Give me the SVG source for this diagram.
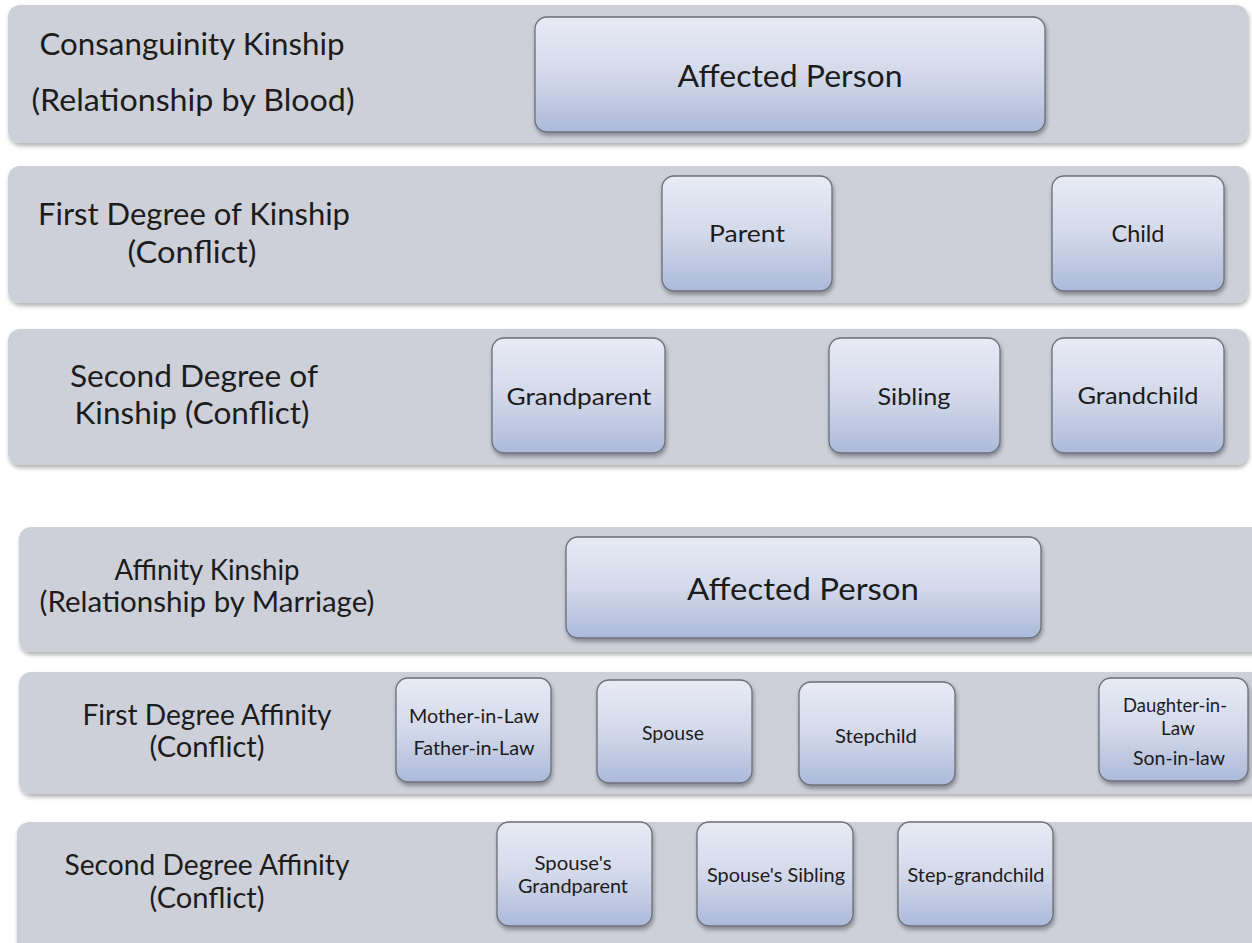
<svg xmlns="http://www.w3.org/2000/svg" width="1252" height="943" viewBox="0 0 1252 943">
<defs>
<linearGradient id="ng" x1="0" y1="0" x2="0" y2="1">
<stop offset="0" stop-color="#e8ebf5"/>
<stop offset="0.5" stop-color="#d3d9ea"/>
<stop offset="1" stop-color="#acb9da"/>
</linearGradient>
<filter id="sh" x="-10%" y="-10%" width="120%" height="130%">
<feDropShadow dx="1" dy="3" stdDeviation="2" flood-color="#000" flood-opacity="0.35"/>
</filter>
<filter id="bsh" x="-5%" y="-10%" width="110%" height="130%">
<feDropShadow dx="1" dy="3" stdDeviation="2" flood-color="#000" flood-opacity="0.3"/>
</filter>
</defs>
<style>
.band{fill:#cdd0d9;filter:url(#bsh)}
.node{fill:url(#ng);stroke:#6b6f78;stroke-width:1.3;filter:url(#sh)}
text{font-family:Lato,"Open Sans","Liberation Sans",sans-serif;fill:#1c1c1c;text-anchor:middle}
.lab{font-size:31px}
.lab2{font-size:28px}
.big{font-size:31px}
.mid{font-size:24px}
.sm{font-size:19px}
</style>
<rect width="1252" height="943" fill="#ffffff"/>
<g id="bands">
<rect class="band" x="8" y="5" width="1240" height="138" rx="12"/>
<rect class="band" x="8" y="166" width="1240" height="137" rx="12"/>
<rect class="band" x="8" y="329" width="1240" height="136" rx="12"/>
<rect class="band" x="19" y="527" width="1245" height="125" rx="12"/>
<rect class="band" x="19" y="672" width="1245" height="122" rx="12"/>
<rect class="band" x="17" y="822" width="1247" height="140" rx="12"/>
</g>
<g id="labels">
<text class="lab" x="192" y="55" textLength="305" lengthAdjust="spacingAndGlyphs">Consanguinity Kinship</text>
<text class="lab" x="193" y="111" textLength="323" lengthAdjust="spacingAndGlyphs">(Relationship by Blood)</text>
<text class="lab" x="194" y="225" textLength="312" lengthAdjust="spacingAndGlyphs">First Degree of Kinship</text>
<text class="lab" x="192" y="263" textLength="129" lengthAdjust="spacingAndGlyphs">(Conflict)</text>
<text class="lab" x="194" y="387" textLength="248" lengthAdjust="spacingAndGlyphs">Second Degree of</text>
<text class="lab" x="192" y="424" textLength="235" lengthAdjust="spacingAndGlyphs">Kinship (Conflict)</text>
<text class="lab2" x="207" y="580" textLength="185" lengthAdjust="spacingAndGlyphs">Affinity Kinship</text>
<text class="lab2" x="207" y="612" textLength="335" lengthAdjust="spacingAndGlyphs">(Relationship by Marriage)</text>
<text class="lab2" x="207" y="725" textLength="249" lengthAdjust="spacingAndGlyphs">First Degree Affinity</text>
<text class="lab2" x="207" y="757" textLength="115" lengthAdjust="spacingAndGlyphs">(Conflict)</text>
<text class="lab2" x="207" y="875" textLength="285" lengthAdjust="spacingAndGlyphs">Second Degree Affinity</text>
<text class="lab2" x="207" y="908" textLength="115" lengthAdjust="spacingAndGlyphs">(Conflict)</text>
</g>
<g id="n-affected1"><rect class="node" x="535" y="17" width="510" height="115" rx="12"/><text class="big" x="790" y="87" textLength="225" lengthAdjust="spacingAndGlyphs">Affected Person</text></g>
<g id="n-parent"><rect class="node" x="662" y="176" width="170" height="115" rx="12"/><text class="mid" x="747" y="242" textLength="76" lengthAdjust="spacingAndGlyphs">Parent</text></g>
<g id="n-child"><rect class="node" x="1052" y="176" width="172" height="115" rx="12"/><text class="mid" x="1138" y="242" textLength="53" lengthAdjust="spacingAndGlyphs">Child</text></g>
<g id="n-grandparent"><rect class="node" x="492" y="338" width="173" height="115" rx="12"/><text class="mid" x="579" y="405" textLength="145" lengthAdjust="spacingAndGlyphs">Grandparent</text></g>
<g id="n-sibling"><rect class="node" x="829" y="338" width="171" height="115" rx="12"/><text class="mid" x="914" y="405" textLength="73" lengthAdjust="spacingAndGlyphs">Sibling</text></g>
<g id="n-grandchild"><rect class="node" x="1052" y="338" width="172" height="115" rx="12"/><text class="mid" x="1138" y="404" textLength="121" lengthAdjust="spacingAndGlyphs">Grandchild</text></g>
<g id="n-affected2"><rect class="node" x="566" y="537" width="475" height="101" rx="12"/><text class="big" x="803" y="600" textLength="232" lengthAdjust="spacingAndGlyphs">Affected Person</text></g>
<g id="n-inlaw-parents"><rect class="node" x="396" y="678" width="155" height="104" rx="12"/><text class="sm" x="474" y="723" textLength="130" lengthAdjust="spacingAndGlyphs">Mother-in-Law</text><text class="sm" x="474" y="755" textLength="121" lengthAdjust="spacingAndGlyphs">Father-in-Law</text></g>
<g id="n-spouse"><rect class="node" x="597" y="680" width="155" height="103" rx="12"/><text class="sm" x="673" y="740" textLength="62" lengthAdjust="spacingAndGlyphs">Spouse</text></g>
<g id="n-stepchild"><rect class="node" x="799" y="682" width="156" height="103" rx="12"/><text class="sm" x="876" y="743" textLength="82" lengthAdjust="spacingAndGlyphs">Stepchild</text></g>
<g id="n-inlaw-children"><rect class="node" x="1099" y="678" width="149" height="103" rx="12"/><text class="sm" x="1175" y="712" textLength="104" lengthAdjust="spacingAndGlyphs">Daughter-in-</text><text class="sm" x="1178" y="735" textLength="34" lengthAdjust="spacingAndGlyphs">Law</text><text class="sm" x="1179" y="765" textLength="92" lengthAdjust="spacingAndGlyphs">Son-in-law</text></g>
<g id="n-spouse-grandparent"><rect class="node" x="497" y="822" width="155" height="104" rx="12"/><text class="sm" x="573" y="870" textLength="77" lengthAdjust="spacingAndGlyphs">Spouse's</text><text class="sm" x="573" y="893" textLength="110" lengthAdjust="spacingAndGlyphs">Grandparent</text></g>
<g id="n-spouse-sibling"><rect class="node" x="697" y="822" width="156" height="104" rx="12"/><text class="sm" x="776" y="882" textLength="138" lengthAdjust="spacingAndGlyphs">Spouse's Sibling</text></g>
<g id="n-step-grandchild"><rect class="node" x="898" y="822" width="155" height="104" rx="12"/><text class="sm" x="976" y="882" textLength="137" lengthAdjust="spacingAndGlyphs">Step-grandchild</text></g>
<g id="connectors"></g>
</svg>
